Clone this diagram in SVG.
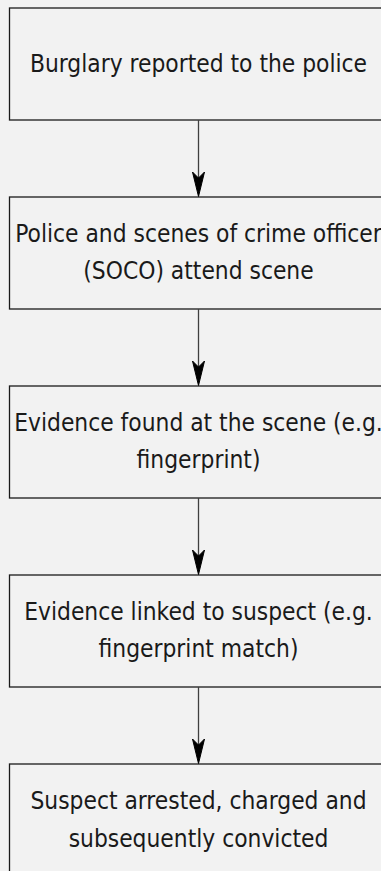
<svg xmlns="http://www.w3.org/2000/svg" width="381" height="871" viewBox="0 0 381 871">
<style>
.box{fill:#f2f2f2;stroke:#1a1a1a;stroke-width:1.3}
.lbl{font-family:"DejaVu Sans Condensed","DejaVu Sans",sans-serif;font-stretch:condensed;font-size:24.3px;fill:#1a1a1a;text-anchor:middle}
.edge{stroke:#404040;stroke-width:1.3;fill:none}
.head{fill:#000;stroke:#000;stroke-width:1}
</style>
<rect width="381" height="871" fill="#f2f2f2"/>
<g id="n1"><rect class="box" x="9.5" y="8" width="378" height="112"/><text class="lbl" x="198.5" y="72">Burglary reported to the police</text></g>
<g id="n2"><rect class="box" x="9.5" y="197" width="378" height="112"/><text class="lbl" x="198.5" y="242">Police and scenes of crime officer</text><text class="lbl" x="198.5" y="279">(SOCO) attend scene</text></g>
<g id="n3"><rect class="box" x="9.5" y="386" width="378" height="112"/><text class="lbl" x="198.5" y="431">Evidence found at the scene (e.g.</text><text class="lbl" x="198.5" y="468">fingerprint)</text></g>
<g id="n4"><rect class="box" x="9.5" y="575" width="378" height="112"/><text class="lbl" x="198.5" y="620">Evidence linked to suspect (e.g.</text><text class="lbl" x="198.5" y="657">fingerprint match)</text></g>
<g id="n5"><rect class="box" x="9.5" y="764" width="378" height="112"/><text class="lbl" x="198.5" y="809">Suspect arrested, charged and</text><text class="lbl" x="198.5" y="847">subsequently convicted</text></g>
<g id="edges">
<line class="edge" x1="198.5" y1="120" x2="198.5" y2="180"/><polygon class="head" points="198.5,196.5 192.5,172 198.5,178 204.5,172"/>
<line class="edge" x1="198.5" y1="309" x2="198.5" y2="369"/><polygon class="head" points="198.5,385.5 192.5,361 198.5,367 204.5,361"/>
<line class="edge" x1="198.5" y1="498" x2="198.5" y2="558"/><polygon class="head" points="198.5,574.5 192.5,550 198.5,556 204.5,550"/>
<line class="edge" x1="198.5" y1="687" x2="198.5" y2="747"/><polygon class="head" points="198.5,763.5 192.5,739 198.5,745 204.5,739"/>
</g>
</svg>
